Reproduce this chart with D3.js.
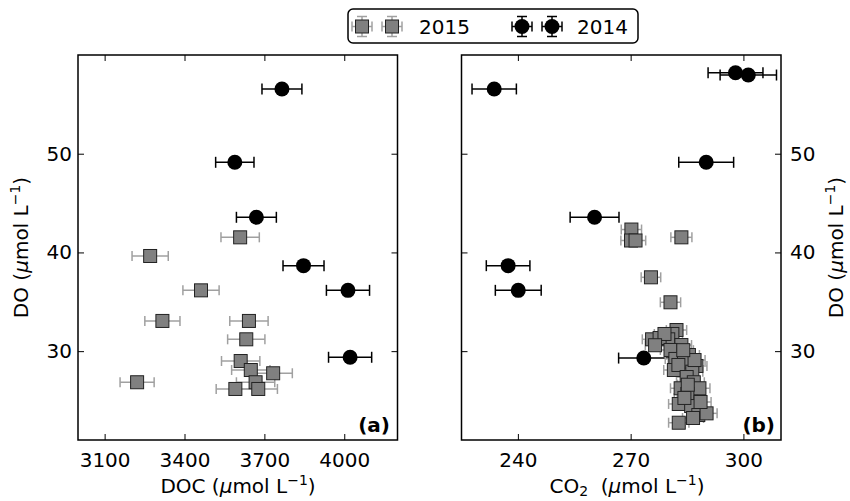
<!DOCTYPE html>
<html>
<head>
<meta charset="utf-8">
<style>
  body { margin: 0; background: #fff; }
  svg text { font-family: 'DejaVu Sans', sans-serif; }
</style>
</head>
<body>
<svg width="850" height="501"></svg>
<script src="https://d3js.org/d3.v7.min.js"></script>
<script>
// ---- data ----
// panel (a): DOC vs DO
const doc2015 = [3609, 3271, 3462, 3317, 3642, 3632, 3611, 3649, 3733, 3222, 3667, 3591, 3677];
const doA2015 = [41.53, 39.64, 36.16, 33.06, 33.06, 31.2, 29.0, 28.09, 27.76, 26.85, 26.85, 26.17, 26.17];
const docErr2015 = [72, 68, 68, 66, 72, 70, 72, 72, 72, 64, 72, 72, 72];

const doc2014 = [3766, 3589, 3670, 3847, 4014, 4022];
const doA2014 = [56.56, 49.13, 43.56, 38.66, 36.16, 29.38];
const docErr2014 = [75, 72, 75, 77, 81, 81];

// panel (b): CO2 vs DO
const co2_2015 = [270.2, 270.1, 271.3, 283.5, 275.4, 280.6,
  282.2, 281.1, 275.7, 280.0, 277.7, 279.0, 283.5, 280.6, 285.5, 281.9,
  284.2, 287.5, 281.5, 286.4, 282.7, 284.9, 286.8, 283.3, 288.3, 285.1,
  282.8, 286.1, 284.3, 288.0, 290.2, 286.6, 282.8, 288.6, 285.2, 287.0,
  276.5, 284.0];
const doB2015 = [42.32, 41.21, 41.21, 41.53, 37.48, 34.95,
  32.14, 31.74, 31.2, 31.2, 31.33, 31.74, 30.62, 30.12, 29.61, 29.21,
  28.93, 28.5, 28.09, 27.92, 28.6, 27.38, 26.85, 26.24, 26.24, 25.66,
  24.65, 24.44, 25.26, 23.53, 23.7, 23.23, 22.75, 24.85, 26.6, 29.1,
  30.6, 30.1];
const co2Err2015 = [2.7, 2.7, 2.7, 2.8, 2.6, 2.7,
  2.7, 2.7, 2.6, 2.7, 2.7, 2.7, 2.7, 2.7, 2.8, 2.7,
  2.7, 2.8, 2.7, 2.8, 2.7, 2.7, 2.8, 2.7, 2.8, 2.7,
  2.7, 2.8, 2.7, 2.8, 2.8, 2.8, 2.7, 2.8, 2.7, 2.8,
  2.6, 2.7];

const co2_2014 = [233.7, 297.9, 301.3, 290.1, 260.4, 237.4, 240.1, 273.5];
const doB2014 = [56.56, 58.2, 57.97, 49.13, 43.56, 38.66, 36.16, 29.3];
const co2Err2014 = [5.9, 7.3, 7.5, 7.3, 6.5, 5.8, 6.1, 6.7];

const docTicks = [3100, 3400, 3700, 4000];
const co2Ticks = [240, 270, 300];
const doTicks = [30, 40, 50];
const years = ["2015", "2014"];

// ---- layout ----
const svg = d3.select("svg");
const yTop = 55, yBottom = 440;
const grey = "#808080", greyBar = "#a0a0a0";

let y = d3.scaleLinear().domain([21, 60]).range([yBottom, yTop]);
let xA = d3.scaleLinear().domain([3000, 4200]).range([78, 397.5]);
let xB = d3.scaleLinear().domain([225, 310]).range([461.5, 781]);

function errorbars(g, xs, ys, errs, x, color, cap) {
  let bars = g.append("g").attr("stroke", color).attr("stroke-width", 1.5).attr("fill", "none");
  xs.forEach((v, i) => {
    let x0 = x(v - errs[i]), x1 = x(v + errs[i]), yy = y(ys[i]);
    bars.append("line").attr("x1", x0).attr("x2", x1).attr("y1", yy).attr("y2", yy);
    bars.append("line").attr("x1", x0).attr("x2", x0).attr("y1", yy - cap).attr("y2", yy + cap);
    bars.append("line").attr("x1", x1).attr("x2", x1).attr("y1", yy - cap).attr("y2", yy + cap);
  });
}

function squares(g, xs, ys, x) {
  g.append("g").selectAll("rect")
    .data(xs)
    .join("rect")
    .attr("x", (d) => x(d) - 6.5)
    .attr("y", (d, i) => y(ys[i]) - 6.5)
    .attr("width", 13)
    .attr("height", 13)
    .style("fill", grey)
    .style("stroke", "#222")
    .style("stroke-width", 1);
}

function circles(g, xs, ys, x) {
  g.append("g").selectAll("circle")
    .data(xs)
    .join("circle")
    .attr("cx", (d) => x(d))
    .attr("cy", (d, i) => y(ys[i]))
    .attr("r", 7.5)
    .style("fill", "#000");
}

function frame(x, xticks, labelSide) {
  let x0 = x.range()[0], x1 = x.range()[1];
  let g = svg.append("g");

  let ax = g.append("g").attr("transform", `translate(0,${yBottom})`)
    .call(d3.axisBottom(x).tickValues(xticks).tickSize(-6).tickPadding(13).tickFormat(d3.format("d")));
  let axt = g.append("g").attr("transform", `translate(0,${yTop})`)
    .call(d3.axisTop(x).tickValues(xticks).tickSize(-6).tickFormat(""));
  let ayl = g.append("g").attr("transform", `translate(${x0},0)`)
    .call(d3.axisLeft(y).tickValues(doTicks).tickSize(-6).tickPadding(6));
  let ayr = g.append("g").attr("transform", `translate(${x1},0)`)
    .call(d3.axisRight(y).tickValues(doTicks).tickSize(-6).tickPadding(9));
  if (labelSide == "left") ayr.selectAll("text").remove();
  else ayl.selectAll("text").remove();
  axt.selectAll("text").remove();

  g.selectAll(".domain").remove();
  g.selectAll(".tick line").attr("stroke", "#000").attr("stroke-width", 1);
  g.selectAll(".tick text").attr("font-size", 20).attr("fill", "#000")
    .style("font-family", "'DejaVu Sans', sans-serif");

  g.append("rect")
    .attr("x", x0).attr("y", yTop)
    .attr("width", x1 - x0).attr("height", yBottom - yTop)
    .style("fill", "none").style("stroke", "#000").style("stroke-width", 1.5);
}

// panel (a)
let pa = svg.append("g");
errorbars(pa, doc2015, doA2015, docErr2015, xA, greyBar, 5);
errorbars(pa, doc2014, doA2014, docErr2014, xA, "#000", 5.5);
squares(pa, doc2015, doA2015, xA);
circles(pa, doc2014, doA2014, xA);
frame(xA, docTicks, "left");

// panel (b) - 2014 drawn under the 2015 cluster
let pb = svg.append("g");
errorbars(pb, co2_2014, doB2014, co2Err2014, xB, "#000", 5.5);
circles(pb, co2_2014, doB2014, xB);
errorbars(pb, co2_2015, doB2015, co2Err2015, xB, greyBar, 5);
squares(pb, co2_2015, doB2015, xB);
frame(xB, co2Ticks, "right");

// panel letters
svg.append("text").attr("x", 390).attr("y", 432).attr("text-anchor", "end")
  .attr("font-size", 20).attr("font-weight", "bold").text("(a)");
svg.append("text").attr("x", 775).attr("y", 432).attr("text-anchor", "end")
  .attr("font-size", 20).attr("font-weight", "bold").text("(b)");

// axis labels
function unitLabel(t) {
  t.append("tspan").attr("font-style", "italic").text("\u03bc");
  t.append("tspan").text("mol L");
  t.append("tspan").attr("font-size", 14).attr("dy", -8).text("\u22121");
  t.append("tspan").attr("dy", 8).text(")");
}

let lx = svg.append("text").attr("x", 238).attr("y", 493)
  .attr("text-anchor", "middle").attr("font-size", 20);
lx.append("tspan").text("DOC (");
unitLabel(lx);

let rx = svg.append("text").attr("x", 627).attr("y", 493)
  .attr("text-anchor", "middle").attr("font-size", 20);
rx.append("tspan").text("CO");
rx.append("tspan").attr("font-size", 14).attr("dy", 3).text("2");
rx.append("tspan").attr("dy", -3).text("\u00a0 (");
unitLabel(rx);

[[28, "left"], [843, "right"]].forEach(([px, side]) => {
  let t = svg.append("text")
    .attr("transform", `translate(${px},${(yTop + yBottom) / 2}) rotate(-90)`)
    .attr("text-anchor", "middle").attr("font-size", 20);
  t.append("tspan").text("DO (");
  unitLabel(t);
});

// legend
let lg = svg.append("g");
lg.append("rect").attr("x", 348).attr("y", 9).attr("width", 290).attr("height", 34).attr("rx", 5)
  .style("fill", "#fff").style("stroke", "#000").style("stroke-width", 1.5);

function legendHandle(cx, cy, color, kind) {
  let g = lg.append("g").attr("stroke", color).attr("stroke-width", 1.5);
  g.append("line").attr("x1", cx - 10).attr("x2", cx + 10).attr("y1", cy).attr("y2", cy);
  g.append("line").attr("x1", cx).attr("x2", cx).attr("y1", cy - 10).attr("y2", cy + 10);
  g.append("line").attr("x1", cx - 10).attr("x2", cx - 10).attr("y1", cy - 5).attr("y2", cy + 5);
  g.append("line").attr("x1", cx + 10).attr("x2", cx + 10).attr("y1", cy - 5).attr("y2", cy + 5);
  g.append("line").attr("x1", cx - 5).attr("x2", cx + 5).attr("y1", cy - 10).attr("y2", cy - 10);
  g.append("line").attr("x1", cx - 5).attr("x2", cx + 5).attr("y1", cy + 10).attr("y2", cy + 10);
  if (kind == "square") {
    lg.append("rect").attr("x", cx - 6.5).attr("y", cy - 6.5).attr("width", 13).attr("height", 13)
      .style("fill", grey).style("stroke", "#222");
  } else {
    lg.append("circle").attr("cx", cx).attr("cy", cy).attr("r", 7.5).style("fill", "#000");
  }
}
legendHandle(362, 26.5, greyBar, "square");
legendHandle(392, 26.5, greyBar, "square");
lg.append("text").attr("x", 419).attr("y", 34).attr("font-size", 20).text(years[0]);
legendHandle(522, 26.5, "#000", "circle");
legendHandle(552, 26.5, "#000", "circle");
lg.append("text").attr("x", 577).attr("y", 34).attr("font-size", 20).text(years[1]);
</script>
</body>
</html>
